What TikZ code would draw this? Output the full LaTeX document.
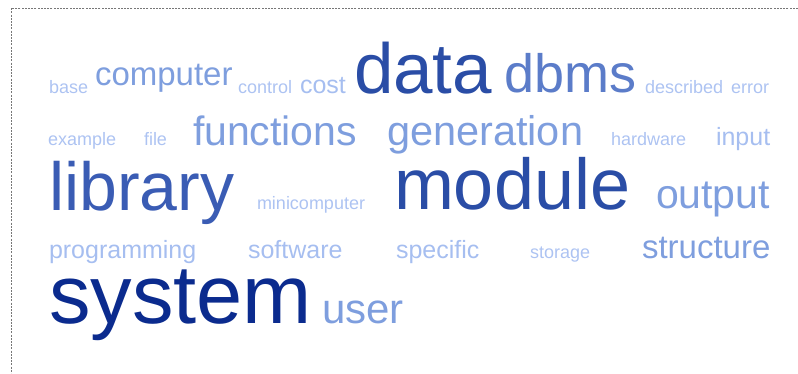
\documentclass[tikz,border=0pt]{standalone}
\usepackage{fontspec}
\setmainfont{Liberation Sans}
\definecolor{cA}{HTML}{0B2B8E}
\definecolor{cB}{HTML}{2A4DA6}
\definecolor{cC}{HTML}{3A5CB4}
\definecolor{cD}{HTML}{5B7CC9}
\definecolor{cE}{HTML}{7E9EDE}
\definecolor{cF}{HTML}{A6BEF0}
\definecolor{cG}{HTML}{ADC3F2}
\definecolor{frame}{HTML}{777777}
\tikzset{
  word/.style={anchor=base west, inner sep=0pt, outer sep=0pt},
  wsz/.style={font=\fontsize{#1pt}{#1pt}\selectfont},
  frameline/.style={draw=frame, line width=0.8pt, dash pattern=on 2pt off 1.2pt}
}
\begin{document}
\begin{tikzpicture}[x=1pt,y=-1pt]
\useasboundingbox (0,0) rectangle (798,373);
\coordinate (tl) at (11,8);
\coordinate (tr) at (798,8);
\coordinate (bl) at (11,373);
\draw[frameline] (tr) -- (tl) -- (bl);
% row 1
\node[word,wsz=18,text=cG] (base) at (49,93) {base};
\node[word,wsz=33,text=cE] (computer) at (95,85) {computer};
\node[word,wsz=18,text=cG] (control) at (238,93) {control};
\node[word,wsz=25,text=cF] (cost) at (300,93) {cost};
\node[word,wsz=71,text=cB] (data) at (354,93) {data};
\node[word,wsz=54,text=cD] (dbms) at (504,92) {dbms};
\node[word,wsz=18,text=cG] (described) at (645,93) {described};
\node[word,wsz=18,text=cG] (error) at (731,93) {error};
% row 2
\node[word,wsz=18,text=cG] (example) at (48,145) {example};
\node[word,wsz=18,text=cG] (file) at (144,145) {file};
\node[word,wsz=41,text=cE] (functions) at (193,145) {functions};
\node[word,wsz=41.5,text=cE] (generation) at (387,145) {generation};
\node[word,wsz=18,text=cG] (hardware) at (611,145) {hardware};
\node[word,wsz=25,text=cF] (input) at (716,145) {input};
% row 3
\node[word,wsz=68,text=cC] (library) at (49,210) {library};
\node[word,wsz=18,text=cG] (minicomputer) at (257,209) {minicomputer};
\node[word,wsz=72,text=cB] (module) at (394,209) {module};
\node[word,wsz=41,text=cE] (output) at (656,208) {output};
% row 4
\node[word,wsz=25,text=cF] (programming) at (49,258) {programming};
\node[word,wsz=25,text=cF] (software) at (248,258) {software};
\node[word,wsz=25,text=cF] (specific) at (396,258) {specific};
\node[word,wsz=18,text=cG] (storage) at (530,258) {storage};
\node[word,wsz=33,text=cE] (structure) at (642,258) {structure};
% row 5
\node[word,wsz=83,text=cA] (system) at (49,323) {system};
\node[word,wsz=42,text=cE] (user) at (322,323) {user};
\end{tikzpicture}
\end{document}
